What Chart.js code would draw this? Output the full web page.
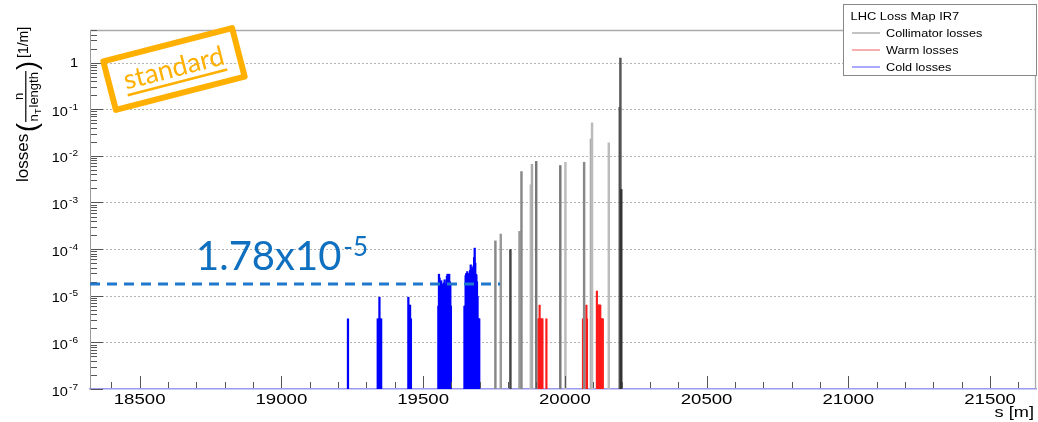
<!DOCTYPE html>
<html>
<head>
<meta charset="utf-8">
<script src="https://cdn.jsdelivr.net/npm/chart.js@4.4.1/dist/chart.umd.min.js"></script>
<style>
  html, body { margin: 0; padding: 0; background: #fff; }
  #wrap { position: relative; width: 1038px; height: 422px; }
</style>
</head>
<body>
<div id="wrap"><canvas id="c" width="1038" height="422"></canvas></div>
<script>
// ---------------- data ----------------
const xTickLabels = [18500, 19000, 19500, 20000, 20500, 21000, 21500];
const yTickExponents = [-7, -6, -5, -4, -3, -2, -1, 0];
const legendTitle = 'LHC Loss Map IR7';
const seriesNames = ['Collimator losses', 'Warm losses', 'Cold losses'];
const xAxisTitle = 's [m]';
const refMantissa = '1.78';
const refExponent = -5;

const collimatorS = [19755, 19774, 19808, 19840, 19847, 19880, 19884, 19899, 19984, 20002, 20068, 20092, 20096, 20155, 20194, 20196, 20199];
const collimatorLoss = [1.5e-4, 2.1e-4, 9.8e-5, 2.4e-4, 4.6e-3, 2.4e-3, 6.6e-3, 7.6e-3, 6.2e-3, 7.3e-3, 7.3e-3, 2.3e-2, 5.1e-2, 1.9e-2, 0.11, 1.25, 1.9e-3];
const collimatorTone = ['#888', '#999', '#444', '#999', '#888', '#bbb', '#aaa', '#777', '#777', '#bbb', '#888', '#aaa', '#bbb', '#bbb', '#333', '#555', '#333'];

const warmS = [19907, 19909, 19911, 19913, 19915, 19918, 19921, 19935, 20064, 20067, 20076, 20078, 20113, 20115, 20117, 20119, 20121, 20123, 20125, 20127, 20129, 20131, 20134];
const warmLoss = [3.2e-6, 3.2e-6, 6.3e-6, 3.2e-6, 3.2e-6, 3.2e-6, 3.2e-6, 3.2e-6, 3.2e-6, 3.2e-6, 6.3e-6, 3.2e-6, 1.26e-5, 6.3e-6, 6.3e-6, 6.3e-6, 6.3e-6, 6.3e-6, 6.3e-6, 3.2e-6, 3.2e-6, 3.2e-6, 3.2e-6];

const coldS = [19235, 19340, 19343, 19346, 19349, 19352, 19448, 19451, 19454, 19457,
  19554, 19556, 19558, 19560, 19562, 19564, 19566, 19568, 19570, 19572, 19574, 19576, 19578, 19580, 19582, 19584, 19586, 19588, 19590, 19592, 19594, 19596, 19598,
  19646, 19648, 19650, 19652, 19654, 19656, 19658, 19660, 19662, 19664, 19666, 19668, 19670, 19672, 19674, 19676, 19678, 19680, 19682, 19684, 19686, 19688, 19690, 19692, 19694, 19696, 19698];
const coldLoss = [3.2e-6, 3.2e-6, 3.2e-6, 9.3e-6, 3.2e-6, 3.2e-6, 9.3e-6, 6.3e-6, 6.3e-6, 3.2e-6,
  6.0e-6, 2.9e-5, 2.4e-5, 1.9e-5, 1.6e-5, 2.1e-5, 1.7e-5, 1.6e-5, 1.8e-5, 1.6e-5, 1.9e-5, 2.2e-5, 1.7e-5, 1.6e-5, 1.8e-5, 2.6e-5, 2.9e-5, 2.2e-5, 2.7e-5, 2.9e-5, 2.0e-5, 1.7e-5, 6.0e-6,
  6.0e-6, 6.0e-6, 2.7e-5, 3.0e-5, 2.8e-5, 3.3e-5, 3.0e-5, 2.8e-5, 2.9e-5, 2.9e-5, 3.5e-5, 4.6e-5, 3.6e-5, 3.3e-5, 4.0e-5, 3.8e-5, 4.4e-5, 6.6e-5, 1.05e-4, 5.0e-5, 2.9e-5, 2.8e-5, 2.0e-5, 9.6e-6, 3.2e-6, 3.2e-6, 3.2e-6];

// ---------------- helpers ----------------
const toPoints = (s, v) => s.map((x, i) => ({ x: x, y: v[i] }));
const SANS = '"Liberation Sans", Arial, Helvetica, sans-serif';
const refLevel = parseFloat(refMantissa) * Math.pow(10, refExponent);

function sText(ctx, text, x, y, sx, align) {
  ctx.save();
  ctx.translate(x, y);
  ctx.scale(sx, 1);
  ctx.textAlign = align || 'left';
  ctx.fillText(text, 0, 0);
  ctx.restore();
}

const decorPlugin = {
  id: 'decor',
  beforeDatasetsDraw(chart) {
    const { ctx, chartArea: a, scales: { y } } = chart;
    ctx.save();
    ctx.strokeStyle = '#b4b4b4';
    ctx.lineWidth = 1;
    ctx.setLineDash([2, 2]);
    yTickExponents.forEach(e => {
      if (e === yTickExponents[0]) return;
      const py = Math.round(y.getPixelForValue(Math.pow(10, e))) + 0.5;
      ctx.beginPath(); ctx.moveTo(a.left, py); ctx.lineTo(a.right, py); ctx.stroke();
    });
    ctx.restore();
  },
  afterDatasetsDraw(chart) {
    const { ctx, chartArea: a, scales: { x, y } } = chart;
    ctx.save();
    // frame top & right
    ctx.strokeStyle = '#aaa'; ctx.lineWidth = 1.3;
    ctx.beginPath(); ctx.moveTo(a.left, a.top + 0.5); ctx.lineTo(a.right - 0.5, a.top + 0.5); ctx.lineTo(a.right - 0.5, a.bottom); ctx.stroke();

    // x ticks (inside, upward)
    ctx.strokeStyle = '#555'; ctx.lineWidth = 1;
    for (let v = 18400; v <= 21600; v += 100) {
      const px = Math.round(x.getPixelForValue(v)) + 0.5;
      const len = (v % 500 === 0) ? 12 : 6;
      ctx.beginPath(); ctx.moveTo(px, a.bottom - 1); ctx.lineTo(px, a.bottom - 1 - len); ctx.stroke();
    }
    // y ticks (inside, rightward)
    for (let e = -7; e <= 0; e++) {
      for (let m = 1; m <= 9; m++) {
        const val = m * Math.pow(10, e);
        if (val > y.max) break;
        const py = Math.round(y.getPixelForValue(val)) + 0.5;
        const len = (m === 1) ? 12 : 6;
        ctx.beginPath(); ctx.moveTo(a.left + 1, py); ctx.lineTo(a.left + 1 + len, py); ctx.stroke();
      }
    }

    // y tick labels
    ctx.fillStyle = '#000';
    ctx.textBaseline = 'alphabetic';
    yTickExponents.forEach(e => {
      const py = y.getPixelForValue(Math.pow(10, e));
      const sx = 1.12;
      const right = 78;
      if (e === 0) {
        ctx.font = '13px ' + SANS;
        sText(ctx, '1', right, py + 4.5, sx, 'right');
        return;
      }
      ctx.font = '13px ' + SANS;
      const wm = ctx.measureText('10').width;
      ctx.font = '9px ' + SANS;
      const we = ctx.measureText(String(e)).width;
      const total = (wm + 1 + we) * sx;
      const x0 = right - total;
      ctx.font = '13px ' + SANS;
      sText(ctx, '10', x0, py + 6.5, sx, 'left');
      ctx.font = '9px ' + SANS;
      sText(ctx, String(e), x0 + (wm + 1) * sx, py + 0.5, sx, 'left');
    });

    // x tick labels
    ctx.font = '14px ' + SANS;
    xTickLabels.forEach(v => {
      sText(ctx, String(v), x.getPixelForValue(v), 404, 1.33, 'center');
    });
    sText(ctx, xAxisTitle, 1034, 417, 1.3, 'right');

    // y axis title (rotated)
    ctx.save();
    ctx.translate(28, 182);
    ctx.rotate(-Math.PI / 2);
    ctx.textAlign = 'left';
    ctx.font = '17px ' + SANS;
    ctx.fillText('losses', 0, 0);
    ctx.font = '27px ' + SANS;
    ctx.fillText('(', 50, 8);
    ctx.fillText(')', 112, 8);
    // fraction
    ctx.fillRect(60, -2.8, 51, 1.2);
    ctx.font = '13px ' + SANS;
    ctx.textAlign = 'center';
    ctx.fillText('n', 85.5, -5);
    ctx.textAlign = 'left';
    ctx.fillText('n', 60.5, 10);
    ctx.font = '9px ' + SANS;
    ctx.fillText('T', 68, 13);
    ctx.font = '13px ' + SANS;
    ctx.fillText('length', 74.5, 10);
    ctx.font = '14px ' + SANS;
    ctx.fillText('[1/m]', 124, 0);
    ctx.restore();

    // reference dashed line + annotation
    const ry = y.getPixelForValue(refLevel);
    ctx.strokeStyle = '#1f78cc'; ctx.lineWidth = 3; ctx.setLineDash([10, 7]);
    ctx.beginPath(); ctx.moveTo(a.left, ry); ctx.lineTo(x.getPixelForValue(19772), ry); ctx.stroke();
    ctx.setLineDash([]);
    ctx.fillStyle = '#1070c0';
    ctx.font = '40px Lato, "Open Sans", sans-serif';
    ctx.textAlign = 'left';
    const mainTxt = refMantissa + 'x10';
    ctx.fillText(mainTxt, 196, 270);
    const mw = ctx.measureText(mainTxt).width;
    ctx.font = '26px Lato, "Open Sans", sans-serif';
    ctx.fillText(String(refExponent), 196 + mw + 2, 256);

    // legend box
    ctx.fillStyle = '#fff';
    ctx.fillRect(843.5, 4.5, 193, 71);
    ctx.strokeStyle = '#888'; ctx.lineWidth = 1;
    ctx.strokeRect(843.5, 4.5, 193, 71);
    ctx.fillStyle = '#000';
    ctx.font = '11px ' + SANS;
    sText(ctx, legendTitle, 850.5, 20, 1.17, 'left');
    const lcols = ['#9a9a9a', '#f07878', '#7070ff'];
    const lys = [33, 50, 67];
    seriesNames.forEach((n, i) => {
      ctx.strokeStyle = lcols[i]; ctx.lineWidth = 1.2;
      ctx.beginPath(); ctx.moveTo(852, lys[i]); ctx.lineTo(880, lys[i]); ctx.stroke();
      ctx.fillStyle = '#000';
      sText(ctx, n, 886, lys[i] + 4, 1.15, 'left');
    });

    // "standard" stamp
    ctx.save();
    ctx.translate(174, 69);
    ctx.rotate(-14.5 * Math.PI / 180);
    ctx.strokeStyle = '#ffb000'; ctx.lineWidth = 6; ctx.lineJoin = 'round';
    ctx.strokeRect(-66.5, -25, 133, 50);
    ctx.fillStyle = '#ffb000';
    ctx.font = '27px Lato, "Open Sans", sans-serif';
    ctx.textAlign = 'center';
    ctx.fillText('standard', 0, 8);
    const sw = ctx.measureText('standard').width;
    ctx.fillRect(-sw / 2, 12.5, sw, 2.6);
    ctx.restore();

    ctx.restore();
  }
};

const chart = new Chart(document.getElementById('c'), {
  type: 'bar',
  data: {
    datasets: [
      {
        label: seriesNames[0],
        data: toPoints(collimatorS, collimatorLoss),
        backgroundColor: (c) => collimatorTone[c.dataIndex] || '#888',
        barThickness: 1.8,
        grouped: false
      },
      {
        label: seriesNames[1],
        data: toPoints(warmS, warmLoss),
        backgroundColor: '#ff1a1a',
        barThickness: 1.5,
        grouped: false
      },
      {
        label: seriesNames[2],
        data: toPoints(coldS, coldLoss),
        backgroundColor: '#0000ff',
        barThickness: 1.6,
        grouped: false
      }
    ]
  },
  options: {
    responsive: false,
    animation: false,
    devicePixelRatio: 1,
    layout: { padding: { left: 0, right: 2, top: 30, bottom: 0 } },
    plugins: { legend: { display: false }, tooltip: { enabled: false } },
    scales: {
      x: {
        type: 'linear',
        min: 18325, max: 21662,
        offset: false,
        grid: { display: false, offset: false },
        border: { display: true, color: '#9a9af0', width: 1.5 },
        ticks: { display: false },
        afterFit: (s) => { s.height = 33; }
      },
      y: {
        type: 'logarithmic',
        min: 1e-7, max: 5,
        grid: { display: false },
        border: { display: true, color: '#999', width: 1 },
        ticks: { display: false },
        afterFit: (s) => { s.width = 90; }
      }
    }
  },
  plugins: [decorPlugin]
});
</script>
</body>
</html>
